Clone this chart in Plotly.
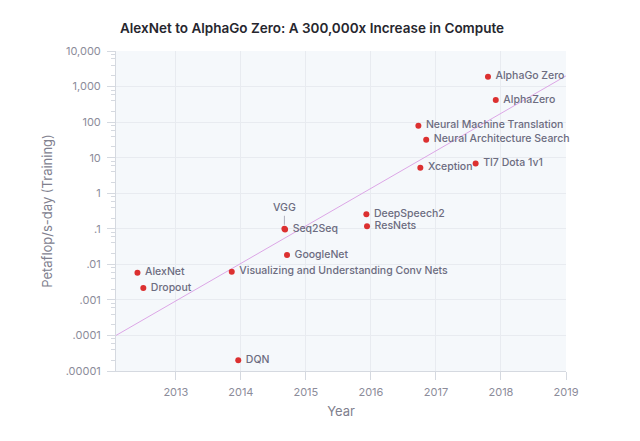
import math
import plotly.graph_objects as go

# ---- data ----
names = ["AlexNet", "Dropout", "Visualizing and Understanding Conv Nets", "DQN",
         "Seq2Seq", "GoogleNet", "DeepSpeech2", "ResNets",
         "Neural Machine Translation", "Neural Architecture Search", "Xception",
         "TI7 Dota 1v1", "AlphaZero", "AlphaGo Zero"]
years = [2012.41, 2012.50, 2013.86, 2013.96,
         2014.68, 2014.71, 2015.93, 2015.94,
         2016.73, 2016.85, 2016.76,
         2017.61, 2017.92, 2017.80]
petaflop_days = [0.0058, 0.00216, 0.0062, 0.00002,
                 0.095, 0.0183, 0.255, 0.117,
                 79, 32, 5.2,
                 6.9, 418, 1890]

vgg_name = "VGG"
vgg_year = 2014.67
vgg_value = 0.1

trend_years = [2012.08, 2019.0]
trend_values = [0.0001, 2000]

y_tickvals = [1e-5, 1e-4, 1e-3, 1e-2, 1e-1, 1, 10, 100, 1000, 10000]
y_ticktext = [".00001", ".0001", ".001", ".01", ".1", "1", "10", "100", "1,000", "10,000"]
x_tickvals = [2013, 2014, 2015, 2016, 2017, 2018, 2019]

minor_vals = [k * 10 ** e for e in range(-5, 4) for k in (2, 4, 6, 8)]

FONT = "Inter"
LABEL_COLOR = "#6c6c80"
TICK_COLOR = "#8c8c9a"
AXIS_COLOR = "#d5d9e0"
GRID_COLOR = "#e8ebf0"
MARK_COLOR = "#dc3030"

fig = go.Figure()

fig.add_trace(go.Scatter(
    x=trend_years, y=trend_values, mode="lines",
    line=dict(color="#dca6e6", width=1), hoverinfo="skip", showlegend=False))

fig.add_trace(go.Scatter(
    x=years, y=petaflop_days, mode="markers+text",
    text=[" " + n for n in names], textposition="middle right",
    textfont=dict(family=FONT, size=10.5, color=LABEL_COLOR, weight=500),
    marker=dict(color=MARK_COLOR, size=6),
    cliponaxis=False,
    showlegend=False))

fig.add_trace(go.Scatter(
    x=[vgg_year], y=[vgg_value], mode="markers",
    marker=dict(color=MARK_COLOR, size=6), showlegend=False))

fig.add_annotation(
    x=vgg_year, y=math.log10(vgg_value), yref="y", xref="x",
    text=vgg_name, showarrow=True, arrowhead=0, arrowwidth=1,
    arrowcolor="#b0b0bc", ax=0, ay=-13, standoff=4,
    yanchor="bottom",
    font=dict(family=FONT, size=10.5, color=LABEL_COLOR, weight=500))

fig.update_layout(
    width=632, height=433,
    margin=dict(l=108, r=74, t=43, b=70),
    paper_bgcolor="white",
    plot_bgcolor="#f5f8fb",
    font=dict(family=FONT, color=TICK_COLOR, size=11),
    title=dict(text="AlexNet to AlphaGo Zero: A 300,000x Increase in Compute",
               x=112 / 632, xanchor="left", y=1 - 20 / 433, yanchor="middle",
               xref="container", yref="container",
               font=dict(family=FONT, size=13.5, color="#26262e", weight=600)),
    xaxis=dict(
        range=[2012.08, 2019.0], tickvals=x_tickvals,
        showgrid=True, gridcolor=GRID_COLOR, zeroline=False,
        showline=True, linecolor=AXIS_COLOR, linewidth=1,
        ticks="outside", ticklen=8, tickcolor=AXIS_COLOR,
        ticklabelstandoff=3,
        tickfont=dict(family=FONT, size=11, color=TICK_COLOR),
        title=dict(text="Year", standoff=8,
                   font=dict(family=FONT, size=13, color="#80808e"))),
    yaxis=dict(
        type="log", range=[-5, 4],
        tickvals=y_tickvals, ticktext=y_ticktext,
        showgrid=True, gridcolor=GRID_COLOR, zeroline=False,
        showline=True, linecolor=AXIS_COLOR, linewidth=1,
        ticks="outside", ticklen=8, tickcolor=AXIS_COLOR,
        ticklabelstandoff=4,
        tickfont=dict(family=FONT, size=11, color=TICK_COLOR),
        minor=dict(tickvals=minor_vals, ticks="outside", ticklen=4,
                   tickcolor=AXIS_COLOR, showgrid=False),
        title=dict(text="Petaflop/s-day (Training)", standoff=10,
                   font=dict(family=FONT, size=13, color="#80808e"))),
)

fig.write_html("out.html")
